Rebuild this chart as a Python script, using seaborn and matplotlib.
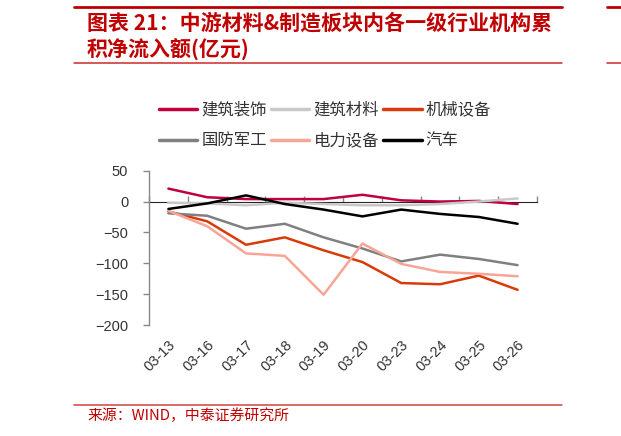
import numpy as np
import pandas as pd
import seaborn as sns
import matplotlib.pyplot as plt
from matplotlib.lines import Line2D

# 数据：各行业机构累积净流入额(亿元)
dates = ['03-13', '03-16', '03-17', '03-18', '03-19', '03-20', '03-23', '03-24', '03-25', '03-26']
jzzs = [21, 7, 4, 4, 4, 11, 2, 0, 1, -4]            # 建筑装饰
jzcl = [-2, -3, -6, -2, -4, -6, -6, -4, 0, 5]        # 建筑材料
jxsb = [-16, -32, -70, -58, -79, -98, -132, -134, -120, -143]  # 机械设备
gfjg = [-19, -23, -44, -36, -58, -76, -97, -86, -93, -103]     # 国防军工
dlsb = [-15, -40, -84, -88, -151, -68, -101, -114, -117, -121]  # 电力设备
qc = [-12, -3, 10, -4, -13, -24, -13, -20, -25, -36]           # 汽车

names = ['建筑装饰', '建筑材料', '机械设备', '国防军工', '电力设备', '汽车']
colors = ['#C0003C', '#C8C8C8', '#D93A0A', '#808080', '#F7A596', '#000000']
yticks = [50, 0, -50, -100, -150, -200]

df = pd.DataFrame({'date': dates, '建筑装饰': jzzs, '建筑材料': jzcl, '机械设备': jxsb,
                   '国防军工': gfjg, '电力设备': dlsb, '汽车': qc})
long = df.melt(id_vars='date', var_name='行业', value_name='净流入')

sns.set_style('white')
plt.rcParams['font.family'] = ['Liberation Sans', 'Noto Sans CJK SC', 'DejaVu Sans']

fig = plt.figure(figsize=(6.21, 4.36), dpi=100)
ax = fig.add_axes([149 / 621, 1 - 325 / 436, 388 / 621, 154.3 / 436])

sns.lineplot(data=long, x='date', y='净流入', hue='行业', hue_order=names,
             palette=colors, linewidth=1.8, sort=False, legend=False, ax=ax)

ax.set_xlim(-0.5, len(dates) - 0.5)
ax.set_ylim(-200, 50)
ax.set_yticks(yticks)
ax.set_xlabel('')
ax.set_ylabel('')
for s in ['top', 'right', 'bottom']:
    ax.spines[s].set_visible(False)
ax.spines['left'].set_color('#888888')
ax.spines['left'].set_linewidth(1.0)
ax.tick_params(axis='y', direction='out', length=4, width=1, color='#888888',
               labelsize=10.5, labelcolor='#333333', pad=11, left=True)
ax.tick_params(axis='x', length=0, labelsize=10.5, labelcolor='#333333', pad=9)
plt.setp(ax.get_xticklabels(), rotation=45, ha='right', rotation_mode='anchor')

# 零轴及其刻度
zero = ax.secondary_xaxis(0.8)
zero.set_xticks(np.arange(len(dates) + 1) - 0.5)
zero.set_xticklabels([])
zero.tick_params(direction='out', length=4, width=1, color='#888888')
zero.spines['bottom'].set_color('#888888')
zero.spines['bottom'].set_linewidth(1.0)

# 图例（按行排列）
order = [0, 3, 1, 4, 2, 5]
handles = [Line2D([], [], color=colors[i], lw=2.5) for i in order]
leg = fig.legend(handles, [names[i] for i in order], loc='upper left',
                 bbox_to_anchor=(144 / 621, 1 - 87 / 436),
                 ncol=3, frameon=False, handlelength=2.35, handletextpad=0.25,
                 columnspacing=0.25, labelspacing=0.83,
                 prop={'family': 'Noto Sans CJK SC', 'size': 11.8})
for t in leg.get_texts():
    t.set_color('#333333')

# 标题与来源
red = '#C00000'
fig.add_artist(Line2D([74 / 621, 562 / 621], [1 - 7.5 / 436] * 2, color=red, lw=2.0))
fig.add_artist(Line2D([74 / 621, 562 / 621], [1 - 63.5 / 436] * 2, color='#D02828', lw=1.1))
fig.add_artist(Line2D([607 / 621, 1], [1 - 7.5 / 436] * 2, color=red, lw=2.0))
fig.add_artist(Line2D([607 / 621, 1], [1 - 63.5 / 436] * 2, color='#D02828', lw=1.1))
fig.add_artist(Line2D([74 / 621, 562 / 621], [1 - 405 / 436] * 2, color='#D84040', lw=1.1))
fig.text(87 / 621, 1 - 23 / 436, '图表 21：中游材料&制造板块内各一级行业机构累',
         color=red, fontsize=15.1, fontweight='bold', style='italic', va='center',
         family=['Noto Sans CJK SC', 'DejaVu Sans'])
fig.text(87 / 621, 1 - 50 / 436, '积净流入额(亿元)',
         color=red, fontsize=15.1, fontweight='bold', style='italic', va='center',
         family=['Noto Sans CJK SC', 'DejaVu Sans'])
fig.text(87 / 621, 1 - 416 / 436, '来源：WIND，中泰证券研究所', color=red, fontsize=10.7,
         va='center', family=['Noto Sans CJK SC', 'DejaVu Sans'])

plt.savefig('out.png', dpi=100)
